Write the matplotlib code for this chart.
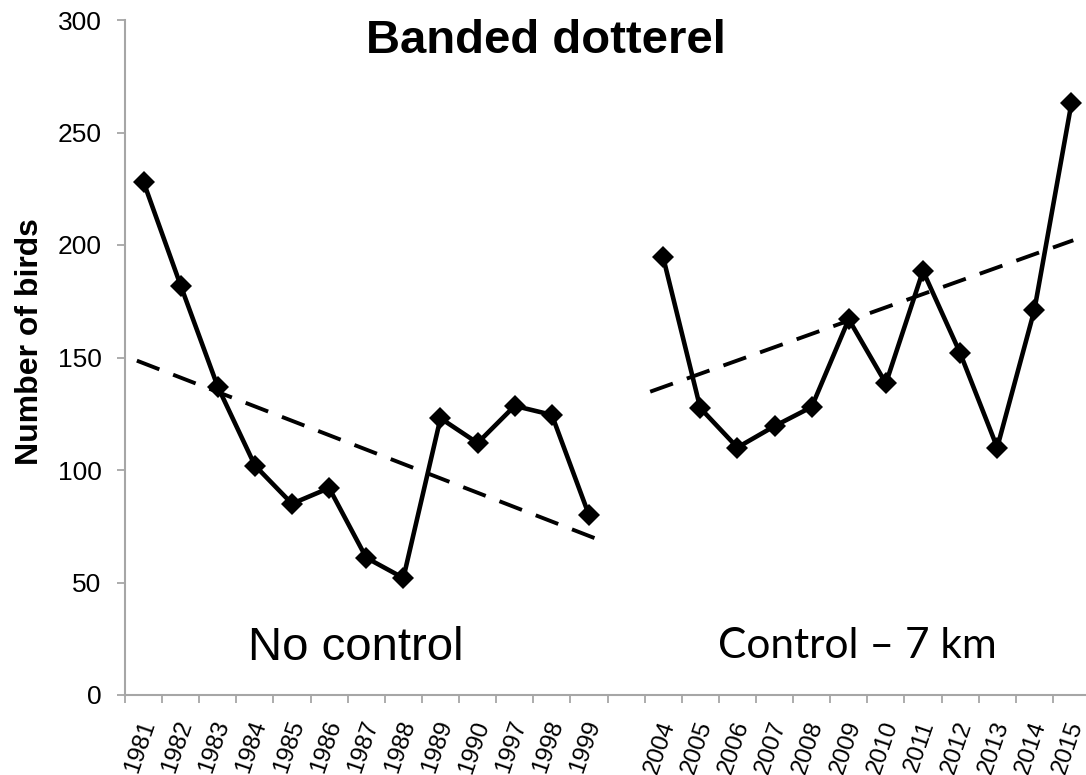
import matplotlib
matplotlib.use('Agg')
import matplotlib.pyplot as plt
import matplotlib.transforms as mtransforms

# data
years_a = ['1981', '1982', '1983', '1984', '1985', '1986', '1987', '1988', '1989', '1990', '1997', '1998', '1999']
birds_a = [228, 182, 137, 102, 85, 92, 61, 52, 123, 112, 128.5, 124.5, 80]
years_b = ['2004', '2005', '2006', '2007', '2008', '2009', '2010', '2011', '2012', '2013', '2014', '2015']
birds_b = [194.5, 127.5, 110, 119.5, 128, 167, 138.5, 188.5, 152, 110, 171, 263]

# dashed trend lines (category position, value at each end)
trend_a_x = [-0.18, 12.47]
trend_a_y = [148.6, 67.7]
trend_b_x = [13.65, 25.05]
trend_b_y = [134.8, 202.1]

labels = years_a + [''] + years_b
xa = list(range(len(years_a)))
xb = list(range(len(years_a) + 1, len(labels)))

fig = plt.figure(figsize=(10.86, 7.75), dpi=100)
ax = fig.add_axes([125 / 1086, 80 / 775, 965 / 1086, 675 / 775])

ax.plot(xa, birds_a, color='black', lw=3.3, marker='D', ms=11.5, mew=0)
ax.plot(xb, birds_b, color='black', lw=3.3, marker='D', ms=11.5, mew=0)
ax.plot(trend_a_x, trend_a_y, color='black', lw=2.8, linestyle=(0, (6.2, 3.8)))
ax.plot(trend_b_x, trend_b_y, color='black', lw=2.8, linestyle=(0, (6.2, 3.8)))

ax.set_xlim(-0.5, len(labels) - 0.5)
ax.set_ylim(0, 300)
ax.set_yticks(range(0, 301, 50))

# ticks between categories, labels on category centres
ax.set_xticks([i - 0.5 for i in range(len(labels) + 1)])
ax.set_xticklabels([])
ax.set_xticks(range(len(labels)), minor=True)
ax.set_xticklabels(labels, minor=True, rotation=71, ha='right', va='center',
                   rotation_mode='anchor', family='Liberation Sans', fontsize=17.5)
ax.tick_params(axis='x', which='minor', length=0, pad=19)
ax.tick_params(axis='x', which='major', length=6, width=1.3, color='#a6a6a6', direction='out')
ax.tick_params(axis='y', length=6, width=1.3, color='#a6a6a6', pad=11, labelsize=19)
for t in ax.get_yticklabels():
    t.set_family('Liberation Sans')

# nudge the slanted year labels a little to the right
offset = mtransforms.ScaledTranslation(4 / 72, 0, fig.dpi_scale_trans)
for t in ax.xaxis.get_minorticklabels():
    t.set_transform(t.get_transform() + offset)

for s in ['top', 'right']:
    ax.spines[s].set_visible(False)
for s in ['left', 'bottom']:
    ax.spines[s].set_color('#a6a6a6')
    ax.spines[s].set_linewidth(1.5)

fig.text(546 / 1086, 1 - 53 / 775, 'Banded dotterel', ha='center', va='baseline',
         family='Liberation Sans', fontweight='bold', fontsize=34)
fig.text(30 / 1086, 1 - 342 / 775, 'Number of birds', ha='center', va='center', rotation=90,
         family='Liberation Sans', fontweight='bold', fontsize=23)
fig.text(356 / 1086, 1 - 660 / 775, 'No control', ha='center', va='baseline',
         family='Liberation Sans', fontsize=34)
fig.text(857 / 1086, 1 - 658 / 775, 'Control – 7 km', ha='center', va='baseline',
         family='Lato', fontsize=30.5)

fig.savefig('out.png', dpi=100)
